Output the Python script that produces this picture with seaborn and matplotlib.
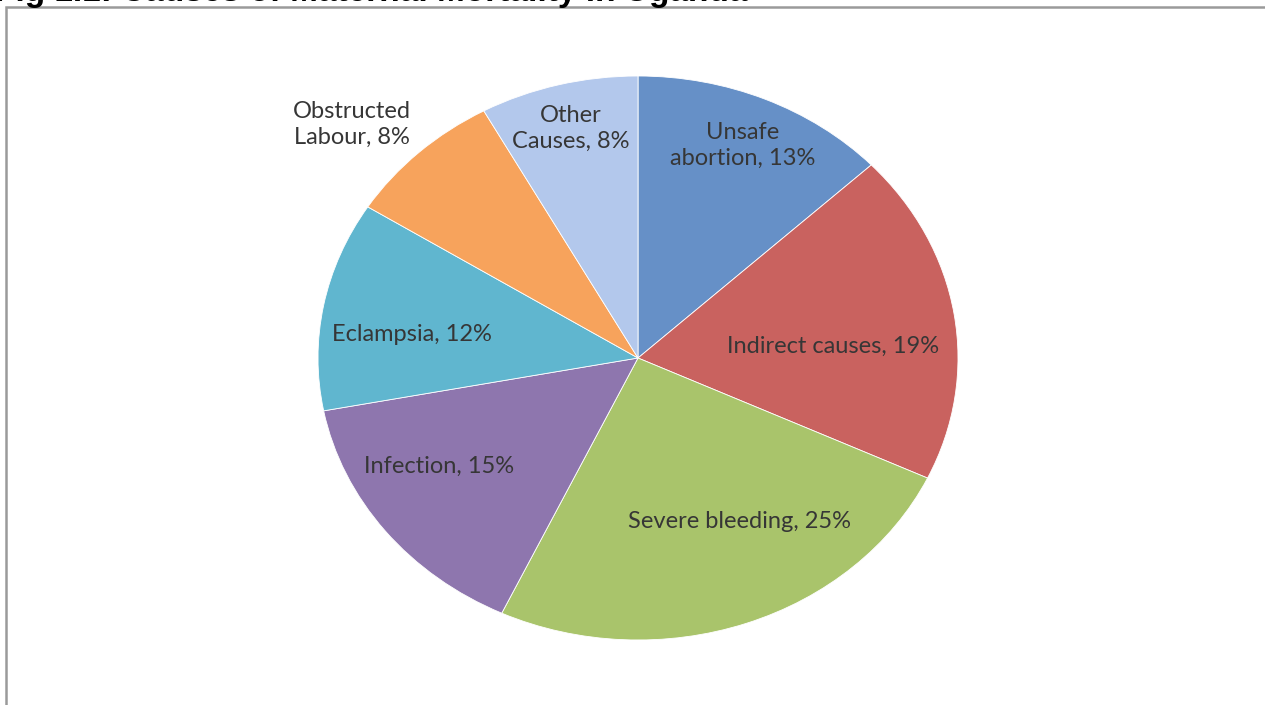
import matplotlib
matplotlib.use("Agg")
import matplotlib.pyplot as plt
import seaborn as sns
import numpy as np
from matplotlib.patches import Rectangle

categories = ["Unsafe\nabortion", "Indirect causes", "Severe bleeding", "Infection",
              "Eclampsia", "Obstructed\nLabour", "Other\nCauses"]
values = [13, 19, 25, 15, 12, 8, 8]
title = "Fig 1.1: Causes of Maternal Mortality in Uganda"

colors = ["#6690C7", "#C9625F", "#A9C46B", "#8E76AE", "#60B6CF", "#F7A35C", "#B3C8EC"]
# label placement (radial fraction, angle nudge in degrees)
label_r = [0.82, 0.61, 0.66, 0.73, 0.71, 1.22, 0.84]
label_dang = [0, -5, 9, -6, 4, 4, 0]

sns.set_theme(style="white")
plt.rcParams["font.family"] = ["Lato", "DejaVu Sans"]

fig = plt.figure(figsize=(12.65, 7.05), dpi=100)
fig.patch.set_facecolor("white")

# frame
fig.patches.append(Rectangle((5.5 / 1265, -0.2), 1.2, 1.2 - 6.5 / 705,
                             transform=fig.transFigure, fill=False,
                             edgecolor="#9a9a9a", linewidth=1.8, zorder=0))
fig.text(-0.004, 1 - 1.5 / 705, title, fontsize=24, fontweight="bold",
         family=["Liberation Sans", "DejaVu Sans"], va="baseline", ha="left",
         color="black")

ax = fig.add_axes([318 / 1265, (705 - 640) / 705, 640 / 1265, 564 / 705])
wedges, _ = ax.pie(values, colors=colors, startangle=90, counterclock=False,
                   radius=1, wedgeprops=dict(edgecolor="white", linewidth=0.6))
ax.set_aspect("auto")
ax.set_xlim(-1, 1)
ax.set_ylim(-1, 1)
ax.axis("off")

for w, cat, v, r, da in zip(wedges, categories, values, label_r, label_dang):
    ang = np.deg2rad((w.theta1 + w.theta2) / 2 + da)
    x, y = r * np.cos(ang), r * np.sin(ang)
    ax.text(x, y, f"{cat}, {v}%", ha="center", va="center", fontsize=17,
            color="#363636", linespacing=1.3, clip_on=False)

fig.savefig("out.png", dpi=100, facecolor="white")
